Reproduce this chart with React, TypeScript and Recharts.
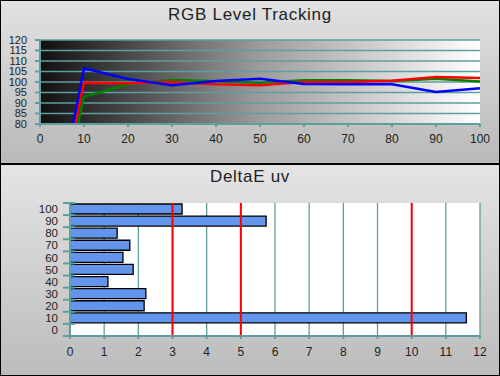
import React from "react";
import {
  LineChart,
  Line,
  XAxis,
  YAxis,
  CartesianGrid,
  BarChart,
  Bar,
  ReferenceLine,
} from "recharts";

// ---- RGB Level Tracking data ----
const levels = [0, 10, 20, 30, 40, 50, 60, 70, 80, 90, 100];
const redValues = [0, 99.6, 99.4, 100, 98.9, 98.4, 100, 100, 100.6, 102.4, 101.9];
const greenValues = [0, 93, 98.9, 101, 100.3, 99.7, 100.8, 100.8, 100.5, 101.6, 100.2];
const blueValues = [0, 106.5, 101.4, 98.4, 100.5, 101.6, 99, 98.9, 98.9, 95.2, 97];
const rgbXTicks = [0, 10, 20, 30, 40, 50, 60, 70, 80, 90, 100];
const rgbYTicks = [80, 85, 90, 95, 100, 105, 110, 115, 120];

// ---- DeltaE uv data ----
const deLevels = [100, 90, 80, 70, 60, 50, 40, 30, 20, 10, 0];
const deValues: (number | null)[] = [3.28, 5.74, 1.38, 1.75, 1.55, 1.85, 1.11, 2.22, 2.17, 11.6, null];
const deXTicks = [0, 1, 2, 3, 4, 5, 6, 7, 8, 9, 10, 11, 12];
const deThresholds = [3, 5, 10];

const rgbData = levels.map((lv, i) => ({
  x: lv,
  r: redValues[i],
  g: greenValues[i],
  b: blueValues[i],
}));
const deData = deLevels.map((lv, i) => ({ level: String(lv), v: deValues[i] }));

const TEAL = "#5f9e9e";
const FONT = "'Liberation Sans', Arial, sans-serif";

const BandTick = (props: any) => {
  const { x, y, payload, index, visibleTicksCount } = props;
  const half = 6.05;
  return (
    <g>
      <text
        x={x}
        y={y}
        dy="0.36em"
        textAnchor="end"
        fontSize={11.5}
        fontFamily={FONT}
        fill="#222"
      >
        {payload.value}
      </text>
      <line x1={x + 5} x2={x + 17} y1={y - half} y2={y - half} stroke={TEAL} strokeWidth={2} />
      {index === visibleTicksCount - 1 ? (
        <line x1={x + 5} x2={x + 17} y1={y + half} y2={y + half} stroke={TEAL} strokeWidth={2} />
      ) : null}
    </g>
  );
};

export default function App() {
  return (
    <div
      style={{
        position: "absolute",
        left: 0,
        top: 0,
        width: 500,
        height: 376,
        fontFamily: FONT,
        overflow: "hidden",
      }}
    >
      <div
        style={{
          position: "absolute",
          left: 0,
          top: 0,
          width: 500,
          height: 164,
          boxSizing: "border-box",
          border: "1px solid #000",
          background: "linear-gradient(to bottom, #e2e2e2, #b9b9b9)",
        }}
      />
      <div
        style={{
          position: "absolute",
          left: 0,
          top: 163,
          width: 500,
          height: 213,
          boxSizing: "border-box",
          border: "1px solid #000",
          borderTopWidth: 2,
          background: "linear-gradient(to bottom, #e4e4e4, #bcbcbc)",
        }}
      />
      <div
        style={{
          position: "absolute",
          left: 0,
          top: 5,
          width: 500,
          textAlign: "center",
          fontSize: 17,
          lineHeight: "20px",
          letterSpacing: 0.7,
          color: "#222",
        }}
      >
        RGB Level Tracking
      </div>
      <div
        style={{
          position: "absolute",
          left: 0,
          top: 167,
          width: 500,
          textAlign: "center",
          fontSize: 17,
          lineHeight: "20px",
          letterSpacing: 0.7,
          color: "#222",
        }}
      >
        DeltaE uv
      </div>

      <div style={{ position: "absolute", left: 0, top: 0 }}>
        <LineChart
          width={500}
          height={164}
          data={rgbData}
          margin={{ top: 40, right: 20, bottom: 10, left: 0 }}
        >
          <defs>
            <linearGradient id="bwGrad" x1="0" y1="0" x2="1" y2="0">
              <stop offset="0%" stopColor="#101010" />
              <stop offset="50%" stopColor="#9c9c9c" />
              <stop offset="100%" stopColor="#ffffff" />
            </linearGradient>
          </defs>
          <CartesianGrid
            vertical={false}
            stroke={TEAL}
            strokeWidth={1.3}
            fill="url(#bwGrad)"
            fillOpacity={1}
          />
          <XAxis
            dataKey="x"
            type="number"
            domain={[0, 100]}
            ticks={rgbXTicks}
            height={30}
            tickSize={3}
            tickMargin={7}
            axisLine={{ stroke: TEAL, strokeWidth: 2 }}
            tickLine={{ stroke: TEAL, strokeWidth: 2 }}
            tick={{ fontSize: 12, fill: "#222", fontFamily: FONT }}
          />
          <YAxis
            type="number"
            domain={[80, 120]}
            allowDataOverflow
            ticks={rgbYTicks}
            width={40}
            tickSize={5}
            tickMargin={8}
            interval={0}
            axisLine={{ stroke: TEAL, strokeWidth: 2 }}
            tickLine={{ stroke: TEAL, strokeWidth: 2 }}
            tick={{ fontSize: 11, fill: "#222", fontFamily: FONT }}
          />
          <Line dataKey="g" stroke="#008000" strokeWidth={2.5} dot={false} isAnimationActive={false} />
          <Line dataKey="r" stroke="#ff0000" strokeWidth={2.5} dot={false} isAnimationActive={false} />
          <Line dataKey="b" stroke="#0000ff" strokeWidth={2.5} dot={false} isAnimationActive={false} />
        </LineChart>
      </div>

      <div style={{ position: "absolute", left: 0, top: 163 }}>
        <BarChart
          width={500}
          height={213}
          data={deData}
          layout="vertical"
          margin={{ top: 40, right: 20, bottom: 10, left: 0 }}
          barSize={10}
        >
          <CartesianGrid
            horizontal={false}
            stroke={TEAL}
            strokeWidth={1.3}
            fill="#ffffff"
            fillOpacity={1}
            verticalValues={deXTicks}
          />
          <XAxis
            type="number"
            domain={[0, 12]}
            ticks={deXTicks}
            height={30}
            tickSize={3}
            tickMargin={8}
            interval={0}
            axisLine={{ stroke: TEAL, strokeWidth: 2 }}
            tickLine={{ stroke: TEAL, strokeWidth: 2 }}
            tick={{ fontSize: 12, fill: "#222", fontFamily: FONT }}
          />
          <YAxis
            type="category"
            dataKey="level"
            width={70}
            tickSize={0}
            tickMargin={12}
            interval={0}
            axisLine={{ stroke: TEAL, strokeWidth: 2 }}
            tickLine={false}
            tick={<BandTick />}
          />
          <Bar
            dataKey="v"
            fill="#6495ed"
            stroke="#000"
            strokeWidth={1.3}
            isAnimationActive={false}
          />
          {deThresholds.map((t) => (
            <ReferenceLine key={t} x={t} stroke="#ff0000" strokeWidth={2} />
          ))}
        </BarChart>
      </div>
    </div>
  );
}
